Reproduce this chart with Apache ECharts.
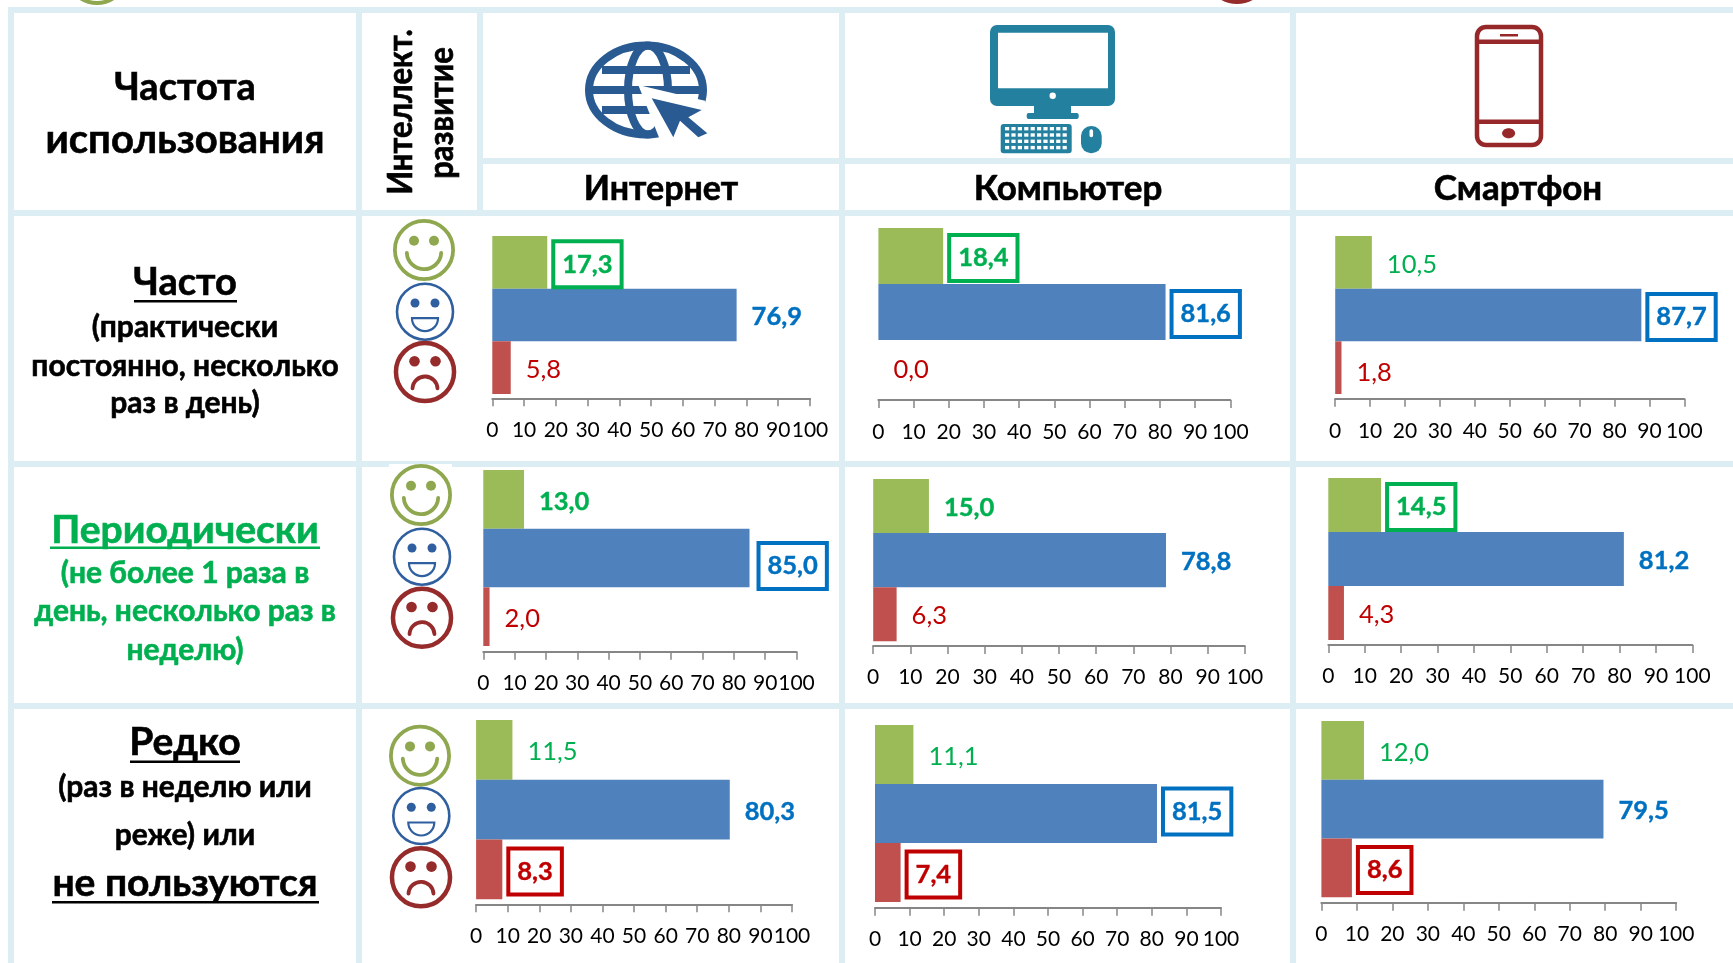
<!doctype html>
<html>
<head>
    <title>Частота использования</title>
    <script src="https://cdnjs.cloudflare.com/ajax/libs/echarts/6.0.0/echarts.min.js"></script>
</head>
<style>
    html, body, #chart {
        height: 100%;
        width: 100%;
        margin: 0;
        overflow: hidden;
        background: #fff;
    }
</style>
<body>
<div id="chart"></div>
<script>
  // rows: Интернет, Компьютер, Смартфон; inside each: green, blue, red
  var levels = ['Высокое', 'Среднее', 'Низкое'];
  var tickValues = [0, 100];
  var oftenValues = [[17.3, 76.9, 5.8], [18.4, 81.6, 0.0], [10.5, 87.7, 1.8]];
  var periodicValues = [[13.0, 85.0, 2.0], [15.0, 78.8, 6.3], [14.5, 81.2, 4.3]];
  var rarelyValues = [[11.5, 80.3, 8.3], [11.1, 81.5, 7.4], [12.0, 79.5, 8.6]];

  // which value labels are boxed / bold
  var oftenBoxed = [[1, 0, 0], [1, 1, 0], [0, 1, 0]];
  var periodicBoxed = [[0, 1, 0], [0, 0, 0], [1, 0, 0]];
  var rarelyBoxed = [[0, 0, 1], [0, 1, 1], [0, 0, 1]];
  var oftenBold = [[1, 1, 0], [1, 1, 0], [0, 1, 0]];
  var periodicBold = [[1, 1, 0], [1, 1, 0], [1, 1, 0]];
  var rarelyBold = [[0, 1, 1], [0, 1, 1], [0, 1, 1]];

  var barColors = ['#9BBB59', '#4F81BD', '#C0504D'];
  var labelColors = ['#00B050', '#0070C0', '#C00000'];
  var band = '#DCEEF4';
  var font = 'Lato';

  // left, width, top, height, axis offset, tick label margin
  var panels = [
    [[492.3, 317.7, 236, 158, 4.3, 21], [878.4, 351.9, 228, 168, 4, 22], [1335.2, 349.1, 236, 158, 4.7, 22]],
    [[483.3, 313.2, 470, 176, 5.7, 21], [873.2, 371.6, 479, 162.3, 4.7, 21], [1328.3, 364, 478, 162, 5, 21]],
    [[476.1, 315.9, 720, 179.3, 5, 21], [875, 346, 725, 177, 5.7, 21], [1321.4, 354.8, 721, 176.3, 5.4, 21]]
  ];
  // labels the original placed off centre: 'row-col-bar' -> [dx, dy]
  var labelShift = { '0-2-2': [0, 5], '1-0-1': [3, 8], '2-1-1': [0, -2] };

  var allValues = [oftenValues, periodicValues, rarelyValues];
  var allBoxed = [oftenBoxed, periodicBoxed, rarelyBoxed];
  var allBold = [oftenBold, periodicBold, rarelyBold];

  var grids = [], xAxes = [], yAxes = [], series = [];

  function itemFor(value, k, boxed, bold, shift) {
    var label = {
      show: true,
      position: 'right',
      distance: boxed ? 6 : 15,
      offset: shift || [0, 2],
      fontFamily: font,
      fontSize: 25.5,
      fontWeight: bold ? 'bold' : 'normal',
      color: labelColors[k],
      textBorderColor: labelColors[k],
      textBorderWidth: bold ? 0.4 : 0,
      formatter: function (p) { return p.value.toFixed(1).replace('.', ','); }
    };
    if (boxed) {
      label.borderColor = labelColors[k];
      label.borderWidth = 4;
      label.padding = [10, 9, 10, 9];
    }
    return { value: value, itemStyle: { color: barColors[k] }, label: label };
  }

  panels.forEach(function (row, r) {
    row.forEach(function (p, c) {
      var idx = grids.length;
      grids.push({ left: p[0], width: p[1], top: p[2], height: p[3] });
      xAxes.push({
        gridIndex: idx,
        type: 'value',
        min: tickValues[0],
        max: tickValues[1],
        interval: 10,
        offset: p[4],
        splitLine: { show: false },
        axisLine: { show: true, lineStyle: { color: '#868686', width: 2 } },
        axisTick: { show: true, length: 8, lineStyle: { color: '#868686', width: 1.5 } },
        axisLabel: { margin: p[5], color: '#000', fontFamily: font, fontSize: 21 }
      });
      yAxes.push({
        gridIndex: idx,
        type: 'category',
        inverse: true,
        data: levels,
        axisLine: { show: false },
        axisTick: { show: false },
        axisLabel: { show: false }
      });
      series.push({
        type: 'bar',
        xAxisIndex: idx,
        yAxisIndex: idx,
        barWidth: '100%',
        silent: true,
        data: allValues[r][c].map(function (v, k) {
          return itemFor(v, k, allBoxed[r][c][k], allBold[r][c][k], labelShift[r + '-' + c + '-' + k]);
        })
      });
    });
  });

  // ---- table lines, text and pictures
  var g = [];

  function rect(x, y, w, h, fill, r) {
    g.push({ type: 'rect', shape: { x: x, y: y, width: w, height: h, r: r || 0 }, style: { fill: fill }, z: 3 });
  }

  function bandRect(x, y, w, h, fill) {
    g.push({ type: 'rect', shape: { x: x, y: y, width: w, height: h }, style: { fill: fill || band }, z: 1 });
  }

  function text(str, x, y, size, color, extra) {
    var c = color || '#000';
    var el = {
      type: 'text', x: x, y: y, z: 3,
      style: {
        text: str, fill: c, stroke: c, lineWidth: 0.6,
        font: 'bold ' + size + 'px ' + font,
        textAlign: 'center', textVerticalAlign: 'middle'
      }
    };
    for (var k in (extra || {})) el[k] = extra[k];
    g.push(el);
  }

  function shape(type, s, style) {
    g.push({ type: type, shape: s, style: style, z: 3 });
  }

  var faceColors = ['#8FA84F', '#2F5F9F', '#962B2B'];
  var faceRadius = [31, 29.3, 31.3];
  var faceStroke = [3.8, 2.6, 4.5];

  function face(kind, cx, cy) {
    var color = faceColors[kind], r = faceRadius[kind], sw = faceStroke[kind];
    var ln = { stroke: color, lineWidth: 3.8, fill: 'none', lineCap: 'round' };
    var eye = [5, 4.5, 5.3][kind], dx = [10, 10, 10.5][kind], dy = [9.3, 8.7, 10.7][kind];
    shape('circle', { cx: cx, cy: cy, r: r - sw / 2 }, { stroke: color, lineWidth: sw, fill: '#fff' });
    shape('circle', { cx: cx - dx, cy: cy - dy, r: eye }, { fill: color });
    shape('circle', { cx: cx + dx, cy: cy - dy, r: eye }, { fill: color });
    if (kind === 0) {
      shape('arc', { cx: cx, cy: cy + 2, r: 17.2, startAngle: 0.05, endAngle: Math.PI - 0.05 }, ln);
    } else if (kind === 1) {
      shape('sector', { cx: cx, cy: cy + 6.5, r: 13, r0: 0, startAngle: 0, endAngle: Math.PI },
        { stroke: color, lineWidth: 2.2, fill: '#fff' });
    } else {
      shape('arc', { cx: cx, cy: cy + 17, r: 12.5, startAngle: Math.PI + 0.05, endAngle: 2 * Math.PI - 0.05 }, ln);
    }
  }

  // bands
  bandRect(8, 7, 1725, 6);
  bandRect(480, 158, 1253, 6);
  bandRect(8, 210, 1725, 6);
  bandRect(8, 461, 1725, 6);
  bandRect(8, 703, 1725, 6);
  bandRect(8, 7, 6, 956);
  bandRect(356, 7, 6, 956);
  bandRect(477, 7, 6, 209);
  bandRect(839, 7, 6, 956);
  bandRect(1290, 7, 6, 956);
  bandRect(389, 464, 63, 4, '#fff');

  // pieces of the row above
  shape('circle', { cx: 97, cy: -27, r: 30 }, { fill: 'none', stroke: '#8FA84F', lineWidth: 4 });
  shape('circle', { cx: 1237, cy: -28, r: 30 }, { fill: 'none', stroke: '#962B2B', lineWidth: 4 });

  // headers
  text('Частота', 185, 88, 38);
  text('использования', 185, 140, 40);
  text('Интеллект.', 401, 112, 31, '#000', { rotation: Math.PI / 2, scaleY: 1.12 });
  text('развитие', 442, 113, 31, '#000', { rotation: Math.PI / 2, scaleY: 1.12 });
  text('Интернет', 661, 189, 34);
  text('Компьютер', 1068, 189, 35);
  text('Смартфон', 1518, 189, 35);

  // row captions
  var green = '#00B050';
  text('Часто', 185, 283, 38);
  rect(134, 300, 103, 2.5, '#000');
  text('(практически', 185, 327, 30);
  text('постоянно, несколько', 185, 366, 30);
  text('раз в день)', 185, 403, 30);

  text('Периодически', 185, 530, 39, green);
  rect(50, 546.5, 270, 2.5, green);
  text('(не более 1 раза в', 185, 573, 30, green);
  text('день, несколько раз в', 185, 611, 30, green);
  text('неделю)', 185, 650, 30, green);

  text('Редко', 185, 742, 39);
  rect(130, 760.5, 110, 2.5, '#000');
  text('(раз в неделю или', 185, 787, 30);
  text('реже) или', 185, 835, 30);
  text('не пользуются', 185, 883, 39);
  rect(52, 901, 267, 2.5, '#000');

  // smileys
  var facePos = [
    [[424, 250], [425, 311.7], [425, 372]],
    [[421, 495], [422, 556.7], [422, 617.7]],
    [[420, 755.7], [421.3, 816], [421, 877.3]]
  ];
  facePos.forEach(function (row) {
    row.forEach(function (p, k) {
      face(k, p[0], p[1]);
    });
  });

  // globe icon
  var gc = '#2A5A92', gs = { stroke: gc, lineWidth: 8, fill: 'none' };
  shape('ellipse', { cx: 646, cy: 90, rx: 57, ry: 44.5 }, gs);
  shape('ellipse', { cx: 648, cy: 90, rx: 20, ry: 44.5 }, gs);
  shape('line', { x1: 602, y1: 70, x2: 690, y2: 70 }, gs);
  shape('line', { x1: 590, y1: 90, x2: 702, y2: 90 }, gs);
  shape('line', { x1: 602, y1: 110, x2: 690, y2: 110 }, gs);
  shape('polygon', { points: [[638.3, 85], [705, 100.7], [713, 140], [660, 140]] }, { fill: '#fff' });
  shape('polygon', {
    points: [[651.7, 98.3], [701.7, 110], [688.3, 117.3], [707.3, 133.3], [698.3, 137.3], [680, 120.7], [673.3, 137.3]]
  }, { fill: gc });

  // computer icon
  var pc = '#23809F';
  rect(990, 25, 125, 81, pc, 7);
  rect(998, 32.7, 110, 55.6, '#fff');
  shape('circle', { cx: 1052.7, cy: 95.7, r: 3.2 }, { fill: '#fff' });
  rect(1034, 105, 37, 9, pc);
  rect(1026.7, 113, 52, 6, pc, 2);
  rect(1000.7, 124, 71, 29.3, pc, 3);
  for (var kr = 0; kr < 4; kr++) {
    for (var kc = 0; kc < 10; kc++) {
      rect(1005 + kc * 6.4, 127 + kr * 6.3, 4.2, 3.4, '#fff');
    }
  }
  rect(1081, 126, 20.7, 27.3, pc, 10);
  rect(1089.5, 129.3, 3.6, 8, '#fff', 1.8);

  // phone icon
  var pr = '#96282A';
  g.push({ type: 'rect', z: 3, shape: { x: 1477, y: 27, width: 64, height: 118, r: 9 }, style: { fill: '#fff', stroke: pr, lineWidth: 4.5 } });
  rect(1477, 39.5, 64, 4.5, pr);
  rect(1477, 119.5, 64, 4.5, pr);
  rect(1500, 34, 18, 2.5, pr);
  shape('ellipse', { cx: 1508.6, cy: 133.3, rx: 6.5, ry: 5 }, { fill: pr });

  var myChart = echarts.init(document.getElementById('chart'));
  myChart.setOption({
    animation: false,
    backgroundColor: '#fff',
    grid: grids,
    xAxis: xAxes,
    yAxis: yAxes,
    series: series,
    graphic: { elements: g }
  });
</script>
</body>
</html>
